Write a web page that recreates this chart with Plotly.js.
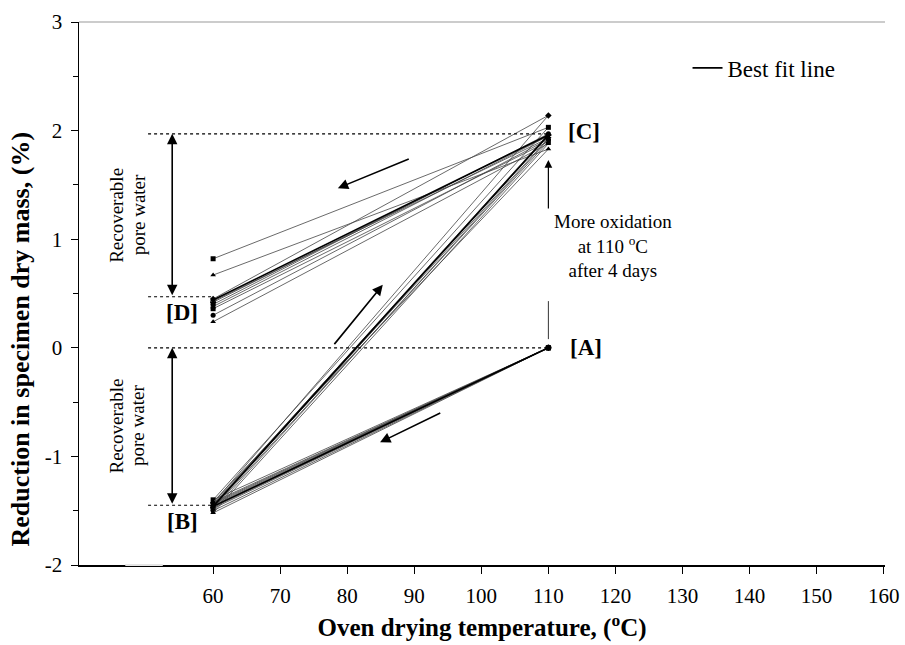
<!DOCTYPE html>
<html>
<head>
<meta charset="utf-8">
<script src="https://cdn.plot.ly/plotly-3.0.1.min.js"></script>
<style>html,body{margin:0;padding:0;background:#fff;}#chart{width:905px;height:645px;}</style>
</head>
<body>
<div id="chart"></div>
<script>
// Sequence of oven temperatures for each specimen: [A] -> [B] -> [C] -> [D]
var temps = [110, 60, 110, 60];
// Reduction in dry mass (%) at each stage, one value per specimen
var stageA = [0, 0, 0, 0, 0, 0, 0, 0, 0, 0];
var stageB = [-1.40, -1.42, -1.43, -1.44, -1.45, -1.46, -1.47, -1.48, -1.50, -1.52];
var stageC = [2.03, 1.83, 2.14, 1.95, 1.97, 1.93, 1.96, 1.90, 1.92, 1.88];
var stageD = [0.82, 0.67, 0.45, 0.38, 0.40, 0.43, 0.42, 0.36, 0.30, 0.24];
var symbols = ['square', 'triangle-up', 'diamond', 'x', 'circle', 'star', 'cross', 'square', 'circle', 'triangle-up'];
// Best fit path
var fitY = [0, -1.46, 1.96, 0.44];
var xTicks = [60, 70, 80, 90, 100, 110, 120, 130, 140, 150, 160];
var yTicks = [-2, -1, 0, 1, 2, 3];
var yTickText = ['-2', '-1', '0', '1', '2', '3'];

var serif = 'Liberation Serif, Times New Roman, serif';
var traces = [];
for (var i = 0; i < stageB.length; i++) {
  traces.push({
    x: temps,
    y: [stageA[i], stageB[i], stageC[i], stageD[i]],
    mode: 'lines+markers',
    line: {color: '#444', width: 0.8},
    marker: {symbol: symbols[i], size: 5, color: '#000'},
    showlegend: false,
    hoverinfo: 'x+y'
  });
}
traces.push({
  x: temps, y: fitY, mode: 'lines',
  line: {color: '#000', width: 1.6},
  name: 'Best fit line', showlegend: true
});

var dash = {color: '#000', width: 1.2, dash: 'dot'};
var shapes = [
  {type: 'line', xref: 'x', yref: 'y', x0: 50.3, x1: 110, y0: 1.97, y1: 1.97, line: dash},
  {type: 'line', xref: 'x', yref: 'y', x0: 50.3, x1: 60, y0: 0.47, y1: 0.47, line: dash},
  {type: 'line', xref: 'x', yref: 'y', x0: 50.3, x1: 110, y0: 0, y1: 0, line: dash},
  {type: 'line', xref: 'x', yref: 'y', x0: 50.3, x1: 60, y0: -1.45, y1: -1.45, line: dash},
  {type: 'line', xref: 'paper', yref: 'paper', x0: 0, x1: 1, y0: 1, y1: 1, line: {color: '#999', width: 1}},
  {type: 'line', xref: 'x', yref: 'y', x0: 110, x1: 110, y0: 0.43, y1: 0.08, line: {color: '#000', width: 0.8}},
  {type: 'line', xref: 'x', yref: 'paper', x0: 46.9, x1: 52.5, y0: 0, y1: 0, layer: 'above', line: {color: '#e4e4e4', width: 2}}
];

function arrow(x, y, ax, ay, w, both) {
  return {x: x, y: y, ax: ax, ay: ay, xref: 'x', yref: 'y', axref: 'x', ayref: 'y',
    showarrow: true, arrowhead: 2, arrowsize: 1.3, arrowwidth: w, arrowcolor: '#000', text: '',
    startarrowhead: 2, startarrowsize: 1.3, arrowside: both ? 'end+start' : 'end'};
}
var lab = {family: serif, size: 23, color: '#000'};
var note = {family: serif, size: 19, color: '#000'};
var annots = [
  arrow(53.9, 1.97, 53.9, 0.47, 1.6, true),
  arrow(53.9, 0, 53.9, -1.45, 1.6, true),
  arrow(78.6, 1.47, 89.4, 1.745, 1.6, false),
  arrow(85.3, 0.58, 77.9, 0.02, 1.6, false),
  arrow(84.9, -0.87, 94.1, -0.594, 1.6, false),
  arrow(110, 1.73, 110, 1.27, 1.2, false),
  {x: 110, y: 0, xref: 'x', yref: 'y', text: '<b>[A]</b>', showarrow: false, xanchor: 'left', xshift: 20, font: lab},
  {x: 60, y: -1.45, xref: 'x', yref: 'y', text: '<b>[B]</b>', showarrow: false, xanchor: 'center', yshift: -16, xshift: -31, font: lab},
  {x: 110, y: 1.97, xref: 'x', yref: 'y', text: '<b>[C]</b>', showarrow: false, xanchor: 'left', xshift: 18, yshift: 2, font: lab},
  {x: 60, y: 0.47, xref: 'x', yref: 'y', text: '<b>[D]</b>', showarrow: false, xanchor: 'center', yshift: -16, xshift: -31, font: lab},
  {x: 45.6, y: 1.22, xref: 'x', yref: 'y', text: 'Recoverable', showarrow: false, textangle: -90, font: note},
  {x: 48.8, y: 1.22, xref: 'x', yref: 'y', text: 'pore water', showarrow: false, textangle: -90, font: note},
  {x: 45.6, y: -0.72, xref: 'x', yref: 'y', text: 'Recoverable', showarrow: false, textangle: -90, font: note},
  {x: 48.8, y: -0.72, xref: 'x', yref: 'y', text: 'pore water', showarrow: false, textangle: -90, font: note},
  {x: 119.6, y: 0.94, xref: 'x', yref: 'y', text: 'More oxidation<br>at 110 <sup>o</sup>C<br>after 4 days', showarrow: false, bgcolor: '#fff', font: note},
  {x: 0, y: 0.5, xref: 'paper', yref: 'paper', xanchor: 'center', yanchor: 'middle', xshift: -59, yshift: -46, text: '<b>Reduction in specimen dry mass, (%)</b>', showarrow: false, textangle: -90, font: {family: serif, size: 26, color: '#000'}}
];

var layout = {
  width: 905, height: 645,
  margin: {l: 79, r: 20, t: 22, b: 80},
  paper_bgcolor: '#fff', plot_bgcolor: '#fff',
  font: {family: serif, size: 20, color: '#000'},
  xaxis: {
    range: [40, 160.2], tickvals: xTicks, ticks: 'outside', ticklen: 7, tickcolor: '#000',
    showline: true, linecolor: '#000', linewidth: 1.5, showgrid: false, zeroline: false,
    ticklabelstandoff: 4,
    tickfont: {family: serif, size: 21, color: '#000'},
    title: {text: '<b>Oven drying temperature, (<sup>o</sup>C)</b>', font: {family: serif, size: 25, color: '#000'}, standoff: 12}
  },
  yaxis: {
    range: [-2, 3], tickvals: yTicks, ticktext: yTickText, ticks: 'outside', ticklen: 7, tickcolor: '#000',
    minor: {dtick: 0.5, ticks: 'outside', ticklen: 5, tickcolor: '#000'},
    showline: true, linecolor: '#000', linewidth: 1.5, showgrid: false, zeroline: false,
    ticklabelstandoff: 4,
    tickfont: {family: serif, size: 21, color: '#000'}
  },
  showlegend: true,
  legend: {x: 0.755, y: 0.955, xanchor: 'left', yanchor: 'top', bgcolor: 'rgba(0,0,0,0)', font: {family: serif, size: 23, color: '#000'}},
  shapes: shapes,
  annotations: annots
};
Plotly.newPlot('chart', traces, layout, {displayModeBar: false, staticPlot: true});
</script>
</body>
</html>
